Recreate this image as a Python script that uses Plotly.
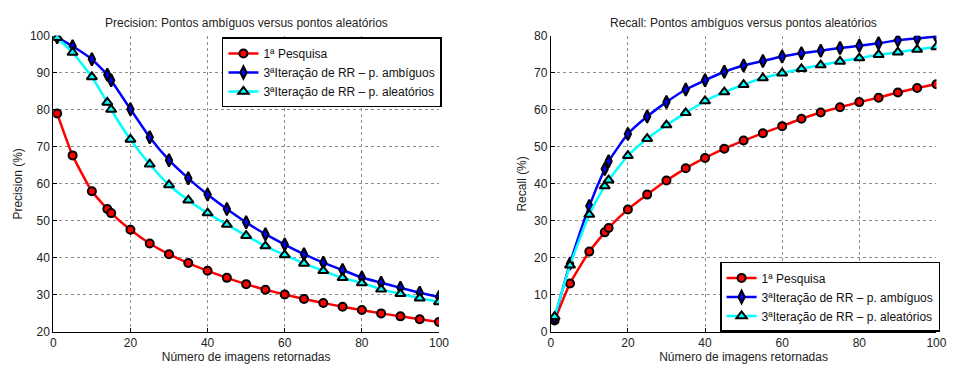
import plotly.graph_objects as go

x = [1, 5, 10, 14, 15, 20, 25, 30, 35, 40, 45, 50, 55, 60, 65, 70, 75, 80, 85, 90, 95, 100]

prec_first = [79.0, 67.7, 58.0, 53.2, 52.1, 47.6, 43.9, 41.0, 38.6, 36.5, 34.6, 32.9,
              31.4, 30.1, 28.9, 27.8, 26.8, 25.9, 25.0, 24.2, 23.4, 22.7]
prec_amb = [99.6, 97.2, 93.7, 89.5, 88.0, 80.2, 72.6, 66.4, 61.5, 57.1, 53.2, 49.6,
            46.4, 43.6, 41.0, 38.7, 36.7, 34.7, 33.3, 31.9, 30.6, 29.4]
prec_ale = [99.5, 95.5, 88.9, 82.0, 80.1, 72.0, 65.3, 59.7, 55.6, 52.1, 49.0, 46.0,
            43.2, 40.8, 38.5, 36.5, 34.6, 33.2, 31.5, 30.3, 29.1, 28.1]

rec_first = [3.1, 13.1, 21.7, 26.9, 28.1, 33.1, 37.1, 40.9, 44.2, 47.0, 49.5, 51.7,
             53.7, 55.6, 57.6, 59.3, 60.7, 62.1, 63.3, 64.7, 65.9, 66.9]
rec_amb = [3.7, 18.5, 34.0, 44.0, 46.1, 53.5, 58.2, 62.1, 65.5, 68.0, 70.3, 72.0,
           73.2, 74.4, 75.3, 76.0, 76.7, 77.3, 78.0, 78.8, 79.3, 79.8]
rec_ale = [4.1, 18.0, 31.7, 39.4, 41.0, 47.6, 52.2, 55.9, 59.2, 62.4, 64.8, 66.8,
           68.6, 69.9, 71.1, 72.1, 73.1, 74.0, 74.9, 75.6, 76.3, 77.0]

names = ["1ª Pesquisa", "3ªIteração de RR – p. ambíguos", "3ªIteração de RR – p. aleatórios"]
colors = ["#ff0000", "#0000ff", "#00ffff"]
symbols = ["circle", "diamond-tall", "triangle-up"]
sizes = [8, 9, 9]

titles = ["Precision: Pontos ambíguos versus pontos aleatórios",
          "Recall: Pontos ambíguos versus pontos aleatórios"]
xlabel = "Número de imagens retornadas"
ylabels = ["Precision (%)", "Recall (%)"]

FONT = "Liberation Sans, Arial, Helvetica, sans-serif"
FS = 12

fig = go.Figure()

for i, ys in enumerate([prec_first, prec_amb, prec_ale]):
    fig.add_trace(go.Scatter(
        x=x, y=ys, name=names[i], mode="lines+markers",
        line=dict(color=colors[i], width=2.5, shape="spline", smoothing=0.5),
        marker=dict(symbol=symbols[i], size=sizes[i], color=colors[i],
                    line=dict(color="black", width=2)),
        xaxis="x", yaxis="y", legend="legend"))

for i, ys in enumerate([rec_first, rec_amb, rec_ale]):
    fig.add_trace(go.Scatter(
        x=x, y=ys, name=names[i], mode="lines+markers",
        line=dict(color=colors[i], width=2.5, shape="spline", smoothing=0.5),
        marker=dict(symbol=symbols[i], size=sizes[i], color=colors[i],
                    line=dict(color="black", width=2)),
        xaxis="x2", yaxis="y2", legend="legend2"))

W, H = 956, 369
ydom = [1 - 337.7 / H, 1 - 30 / H]

axis_common = dict(
    showline=True, linecolor="black", linewidth=1,
    ticks="inside", ticklen=4, tickcolor="black",
    showgrid=True, gridcolor="#8c8c8c", griddash="dot", gridwidth=1,
    zeroline=False, tickfont=dict(family=FONT, size=FS, color="#222"),
    mirror=False,
)

fig.update_layout(
    width=W, height=H,
    margin=dict(l=0, r=0, t=0, b=0),
    paper_bgcolor="white", plot_bgcolor="white",
    font=dict(family=FONT, size=FS, color="#222"),
    xaxis=dict(domain=[51 / W, 442 / W], range=[0, 100], tickvals=[0, 20, 40, 60, 80, 100],
               anchor="y",
               title=dict(text=xlabel, font=dict(family=FONT, size=FS), standoff=0),
               **axis_common),
    yaxis=dict(domain=ydom, range=[20, 100], tickvals=[20, 30, 40, 50, 60, 70, 80, 90, 100],
               anchor="x",
               title=dict(text=ylabels[0], font=dict(family=FONT, size=FS), standoff=4),
               **axis_common),
    xaxis2=dict(domain=[555.3 / W, 946.3 / W], range=[0, 100], tickvals=[0, 20, 40, 60, 80, 100],
                anchor="y2",
                title=dict(text=xlabel, font=dict(family=FONT, size=FS), standoff=0),
                **axis_common),
    yaxis2=dict(domain=ydom, range=[0, 80], tickvals=[0, 10, 20, 30, 40, 50, 60, 70, 80],
                anchor="x2",
                title=dict(text=ylabels[1], font=dict(family=FONT, size=FS), standoff=4),
                **axis_common),
    legend=dict(x=445 / W, xanchor="right", y=1 - 31.7 / H, yanchor="top",
                bgcolor="white", bordercolor="black", borderwidth=1.5,
                font=dict(family=FONT, size=FS, color="#111"),
                tracegroupgap=0, itemwidth=30),
    legend2=dict(x=950 / W, xanchor="right", y=1 - 337.7 / H, yanchor="bottom",
                 bgcolor="white", bordercolor="black", borderwidth=1.5,
                 font=dict(family=FONT, size=FS, color="#111"),
                 tracegroupgap=0, itemwidth=30),
    annotations=[
        dict(text=titles[0], xref="paper", yref="paper", x=(51 + 442) / 2 / W, y=1 - 17 / H,
             xanchor="center", yanchor="middle",
             showarrow=False, font=dict(family=FONT, size=FS, color="#222")),
        dict(text=titles[1], xref="paper", yref="paper", x=(555.3 + 946.3) / 2 / W, y=1 - 17 / H,
             xanchor="center", yanchor="middle",
             showarrow=False, font=dict(family=FONT, size=FS, color="#222")),
    ],
)

fig.write_html("out.html")
